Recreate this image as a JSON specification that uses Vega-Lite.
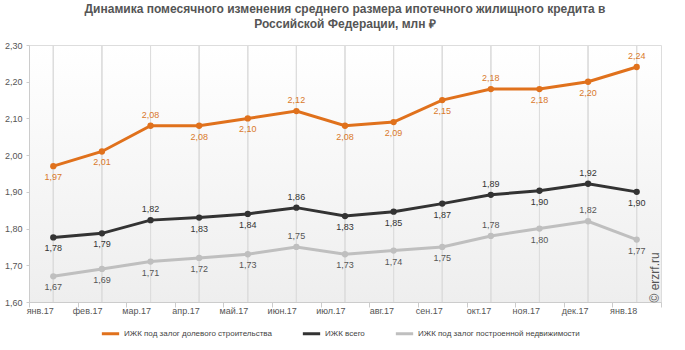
{
  "$schema": "https://vega.github.io/schema/vega-lite/v6.json",
  "width": 632,
  "height": 257,
  "autosize": {"type": "none"},
  "padding": {"left": 29, "top": 45, "right": 24, "bottom": 48},
  "title": {
    "text": ["Динамика помесячного изменения среднего размера ипотечного жилищного кредита в", "Российской Федерации, млн ₽"],
    "font": "Liberation Sans",
    "fontSize": 12,
    "fontWeight": "bold",
    "color": "#555555",
    "lineHeight": 15,
    "anchor": "middle",
    "offset": 10
  },
  "data": {
    "values": [
      {"month": "янв.17", "series": "ИЖК под залог долевого строительства", "value": 1.97},
      {"month": "фев.17", "series": "ИЖК под залог долевого строительства", "value": 2.01},
      {"month": "мар.17", "series": "ИЖК под залог долевого строительства", "value": 2.08},
      {"month": "апр.17", "series": "ИЖК под залог долевого строительства", "value": 2.08},
      {"month": "май.17", "series": "ИЖК под залог долевого строительства", "value": 2.10},
      {"month": "июн.17", "series": "ИЖК под залог долевого строительства", "value": 2.12},
      {"month": "июл.17", "series": "ИЖК под залог долевого строительства", "value": 2.08},
      {"month": "авг.17", "series": "ИЖК под залог долевого строительства", "value": 2.09},
      {"month": "сен.17", "series": "ИЖК под залог долевого строительства", "value": 2.15},
      {"month": "окт.17", "series": "ИЖК под залог долевого строительства", "value": 2.18},
      {"month": "ноя.17", "series": "ИЖК под залог долевого строительства", "value": 2.18},
      {"month": "дек.17", "series": "ИЖК под залог долевого строительства", "value": 2.20},
      {"month": "янв.18", "series": "ИЖК под залог долевого строительства", "value": 2.24},
      {"month": "янв.17", "series": "ИЖК всего", "value": 1.776},
      {"month": "фев.17", "series": "ИЖК всего", "value": 1.787},
      {"month": "мар.17", "series": "ИЖК всего", "value": 1.823},
      {"month": "апр.17", "series": "ИЖК всего", "value": 1.83},
      {"month": "май.17", "series": "ИЖК всего", "value": 1.84},
      {"month": "июн.17", "series": "ИЖК всего", "value": 1.857},
      {"month": "июл.17", "series": "ИЖК всего", "value": 1.834},
      {"month": "авг.17", "series": "ИЖК всего", "value": 1.846},
      {"month": "сен.17", "series": "ИЖК всего", "value": 1.868},
      {"month": "окт.17", "series": "ИЖК всего", "value": 1.892},
      {"month": "ноя.17", "series": "ИЖК всего", "value": 1.903},
      {"month": "дек.17", "series": "ИЖК всего", "value": 1.922},
      {"month": "янв.18", "series": "ИЖК всего", "value": 1.90},
      {"month": "янв.17", "series": "ИЖК под залог построенной недвижимости", "value": 1.67},
      {"month": "фев.17", "series": "ИЖК под залог построенной недвижимости", "value": 1.69},
      {"month": "мар.17", "series": "ИЖК под залог построенной недвижимости", "value": 1.71},
      {"month": "апр.17", "series": "ИЖК под залог построенной недвижимости", "value": 1.72},
      {"month": "май.17", "series": "ИЖК под залог построенной недвижимости", "value": 1.73},
      {"month": "июн.17", "series": "ИЖК под залог построенной недвижимости", "value": 1.75},
      {"month": "июл.17", "series": "ИЖК под залог построенной недвижимости", "value": 1.73},
      {"month": "авг.17", "series": "ИЖК под залог построенной недвижимости", "value": 1.74},
      {"month": "сен.17", "series": "ИЖК под залог построенной недвижимости", "value": 1.75},
      {"month": "окт.17", "series": "ИЖК под залог построенной недвижимости", "value": 1.78},
      {"month": "ноя.17", "series": "ИЖК под залог построенной недвижимости", "value": 1.80},
      {"month": "дек.17", "series": "ИЖК под залог построенной недвижимости", "value": 1.82},
      {"month": "янв.18", "series": "ИЖК под залог построенной недвижимости", "value": 1.77}
    ]
  },
  "layer": [
    {
      "mark": {"type": "rule", "color": "#dddddd", "strokeWidth": 1},
      "encoding": {
        "x": {"field": "month", "type": "nominal", "sort": null}
      }
    },
    {
      "mark": {"type": "line", "strokeWidth": 3, "point": {"filled": true, "size": 40}},
      "encoding": {
        "x": {
          "field": "month", "type": "nominal", "sort": null,
          "scale": {"paddingInner": 0, "paddingOuter": 0},
          "axis": {
            "title": null, "labelAngle": 0, "tickBand": "extent", "tickSize": 5,
            "tickColor": "#cccccc", "domainColor": "#cccccc", "labelPadding": 3,
            "labelFont": "Liberation Sans", "labelFontSize": 9, "labelColor": "#555555", "grid": false
          }
        },
        "y": {
          "field": "value", "type": "quantitative",
          "scale": {"domain": [1.6, 2.3], "nice": false, "zero": false},
          "axis": {
            "title": null, "values": [1.6, 1.7, 1.8, 1.9, 2.0, 2.1, 2.2, 2.3], "format": ".2f",
            "grid": false, "tickSize": 3, "tickColor": "#cccccc", "domainColor": "#cccccc",
            "labelPadding": 4, "labelFont": "Liberation Sans", "labelFontSize": 9, "labelColor": "#555555"
          }
        },
        "color": {
          "field": "series", "type": "nominal", "sort": null,
          "scale": {
            "domain": ["ИЖК под залог долевого строительства", "ИЖК всего", "ИЖК под залог построенной недвижимости"],
            "range": ["#e0711c", "#333333", "#bfbfbf"]
          },
          "legend": {
            "title": null, "orient": "none", "legendX": 71, "legendY": 278, "direction": "horizontal", "symbolType": "stroke",
            "symbolStrokeWidth": 3, "symbolSize": 300, "labelFont": "Liberation Sans", "labelLimit": 0,
            "labelFontSize": 8, "labelColor": "#444444", "columnPadding": 24, "labelOffset": 3
          }
        }
      }
    },
    {
      "transform": [
        {"filter": "(datum.series === 'ИЖК всего' && indexof(['мар.17','июн.17','окт.17','дек.17'], datum.month) >= 0) || (datum.series === 'ИЖК под залог долевого строительства' && indexof(['мар.17','июн.17','окт.17','янв.18'], datum.month) >= 0) || (datum.series === 'ИЖК под залог построенной недвижимости' && indexof(['июн.17','окт.17','дек.17'], datum.month) >= 0)"}
      ],
      "mark": {"type": "text", "dy": -11, "baseline": "middle", "font": "Liberation Sans", "fontSize": 9},
      "encoding": {
        "x": {"field": "month", "type": "nominal", "sort": null},
        "y": {
          "field": "value", "type": "quantitative",
          "axis": {
            "orient": "right", "labels": false, "ticks": false, "domain": false, "grid": false,
            "title": "© erzrf.ru", "titleAngle": 270, "titleAnchor": "start", "titlePadding": 0,
            "titleFont": "Liberation Sans", "titleFontSize": 12, "titleFontWeight": "normal", "titleColor": "#555555"
          }
        },
        "text": {"field": "value", "type": "quantitative", "format": ".2f"},
        "fill": {
          "field": "series", "type": "nominal", "legend": null,
          "scale": {
            "domain": ["ИЖК под залог долевого строительства", "ИЖК всего", "ИЖК под залог построенной недвижимости"],
            "range": ["#d9792b", "#333333", "#555555"]
          }
        }
      }
    },
    {
      "transform": [
        {"filter": "!((datum.series === 'ИЖК всего' && indexof(['мар.17','июн.17','окт.17','дек.17'], datum.month) >= 0) || (datum.series === 'ИЖК под залог долевого строительства' && indexof(['мар.17','июн.17','окт.17','янв.18'], datum.month) >= 0) || (datum.series === 'ИЖК под залог построенной недвижимости' && indexof(['июн.17','окт.17','дек.17'], datum.month) >= 0))"}
      ],
      "mark": {"type": "text", "dy": 11, "baseline": "middle", "font": "Liberation Sans", "fontSize": 9},
      "encoding": {
        "x": {"field": "month", "type": "nominal", "sort": null},
        "y": {"field": "value", "type": "quantitative", "axis": null},
        "text": {"field": "value", "type": "quantitative", "format": ".2f"},
        "fill": {"field": "series", "type": "nominal", "legend": null}
      }
    }
  ],
  "resolve": {"axis": {"y": "independent"}},
  "config": {
    "locale": {"number": {"decimal": ",", "thousands": " ", "grouping": [3], "currency": ["", " ₽"]}},
    "view": {
      "stroke": "#dddddd",
      "fill": {"gradient": "linear", "x1": 0, "y1": 0, "x2": 0, "y2": 1, "stops": [{"offset": 0, "color": "#ffffff"}, {"offset": 1, "color": "#eeeeee"}]}
    }
  }
}
